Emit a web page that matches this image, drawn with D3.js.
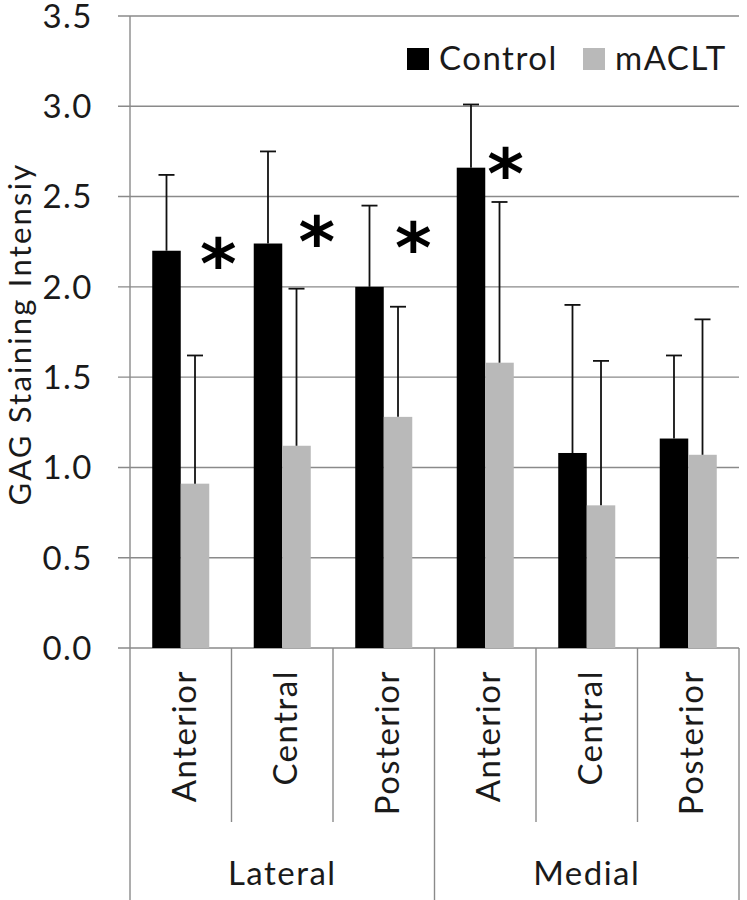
<!DOCTYPE html>
<html>
<head>
<meta charset="utf-8">
<script src="https://cdn.jsdelivr.net/npm/d3@7"></script>
<style>
  html, body { margin: 0; padding: 0; background: #fff; }
  svg { display: block; }
  text.lbl { font-family: Lato, "Open Sans", sans-serif; fill: #1a1a1a; letter-spacing: 1.5px; }
</style>
</head>
<body>
<script>
// ---- data ----
const categories = ["Anterior", "Central", "Posterior", "Anterior", "Central", "Posterior"];
const regions = ["Lateral", "Medial"];
const regionSpan = [[0, 2], [3, 5]];
const seriesNames = ["Control", "mACLT"];
const controlMean = [2.20, 2.24, 2.00, 2.66, 1.08, 1.16];
const controlErr  = [0.42, 0.51, 0.45, 0.35, 0.82, 0.46];
const mACLTMean   = [0.91, 1.12, 1.28, 1.58, 0.79, 1.07];
const mACLTErr    = [0.71, 0.87, 0.61, 0.89, 0.80, 0.75];
const yTicks = [0, 0.5, 1.0, 1.5, 2.0, 2.5, 3.0, 3.5];
const yTickLabels = ["0.0", "0.5", "1.0", "1.5", "2.0", "2.5", "3.0", "3.5"];
const yLabel = "GAG Staining Intensiy";
// significance markers: category index, value level, position inside band
const sigIndex = [0, 1, 2, 3];
const sigLevel = [2.21, 2.33, 2.30, 2.71];
const sigPos   = [0.87, 0.84, 0.79, 0.70];

const colors = { Control: "#000000", mACLT: "#b9b9b9" };
const W = 747, H = 900;
const FS = 33;
const plot = { left: 130, right: 739, top: 16, bottom: 648 };

const svg = d3.select("body").append("svg").attr("width", W).attr("height", H);

const x = d3.scaleBand().domain(d3.range(categories.length)).range([plot.left, plot.right]);
const sub = d3.scaleBand().domain(seriesNames).range([0, x.bandwidth()]).paddingInner(0).paddingOuter(0.78);
const y = d3.scaleLinear().domain([0, 3.5]).range([plot.bottom, plot.top]);

const gridColor = "#8a8a8a";

// gridlines + tick marks
svg.append("g").selectAll("line").data(yTicks).join("line")
  .attr("x1", plot.left - 12).attr("x2", plot.right)
  .attr("y1", d => y(d)).attr("y2", d => y(d))
  .attr("stroke", gridColor).attr("stroke-width", 1.4);

// y tick labels
svg.append("g").selectAll("text").data(yTicks).join("text")
  .attr("class", "lbl")
  .attr("x", 93).attr("y", d => y(d)).attr("dy", "0.36em")
  .attr("text-anchor", "end").attr("font-size", FS)
  .text((d, i) => yTickLabels[i]);

// y axis line extends down through the category area
svg.append("line").attr("x1", plot.left).attr("x2", plot.left)
  .attr("y1", plot.top).attr("y2", H)
  .attr("stroke", gridColor).attr("stroke-width", 1.4);

// category dividers
const boundaries = d3.range(categories.length + 1);
svg.append("g").selectAll("line").data(boundaries.slice(1)).join("line")
  .attr("x1", i => i === categories.length ? plot.right : x(i))
  .attr("x2", i => i === categories.length ? plot.right : x(i))
  .attr("y1", plot.bottom)
  .attr("y2", i => (i === 3 || i === categories.length) ? H : 822)
  .attr("stroke", gridColor).attr("stroke-width", 1.4);

// bars
const series = [
  { name: "Control", mean: controlMean, err: controlErr },
  { name: "mACLT", mean: mACLTMean, err: mACLTErr }
];
series.forEach(s => {
  const g = svg.append("g");
  g.selectAll("rect").data(s.mean).join("rect")
    .attr("x", (d, i) => x(i) + sub(s.name))
    .attr("y", d => y(d))
    .attr("width", sub.bandwidth())
    .attr("height", d => y(0) - y(d))
    .attr("fill", colors[s.name]);
  const eg = svg.append("g").attr("stroke", "#111").attr("stroke-width", 1.8);
  s.mean.forEach((m, i) => {
    const cx = x(i) + sub(s.name) + sub.bandwidth() / 2;
    eg.append("line").attr("x1", cx).attr("x2", cx).attr("y1", y(m)).attr("y2", y(m + s.err[i]));
    eg.append("line").attr("x1", cx - 8).attr("x2", cx + 8).attr("y1", y(m + s.err[i])).attr("y2", y(m + s.err[i]));
  });
});

// significance asterisks
svg.append("g").selectAll("text").data(sigIndex).join("text")
  .attr("x", (d, k) => x(d) + sigPos[k] * x.bandwidth())
  .attr("y", (d, k) => y(sigLevel[k]) + 39)
  .attr("text-anchor", "middle")
  .attr("font-size", 70)
  .attr("font-weight", "bold")
  .style("font-family", "'DejaVu Sans', sans-serif")
  .attr("fill", "#000")
  .text("*");

// category labels (rotated)
svg.append("g").selectAll("text").data(categories).join("text")
  .attr("class", "lbl")
  .attr("transform", (d, i) => `translate(${x(i) + x.bandwidth() / 2 + 15},670) rotate(-90)`)
  .attr("text-anchor", "end").attr("font-size", FS)
  .text(d => d);

// region labels
svg.append("g").selectAll("text").data(regions).join("text")
  .attr("class", "lbl")
  .attr("x", (d, i) => (x(regionSpan[i][0]) + x(regionSpan[i][1]) + x.bandwidth()) / 2)
  .attr("y", 885).attr("text-anchor", "middle").attr("font-size", FS)
  .text(d => d);

// y axis label
svg.append("text")
  .attr("class", "lbl")
  .attr("transform", `translate(31,${(plot.top + plot.bottom) / 2 + 2}) rotate(-90)`)
  .attr("text-anchor", "middle").attr("font-size", 31)
  .style("letter-spacing", "2.2px")
  .text(yLabel);

// legend
const legendX = [407, 583];
const lg = svg.append("g");
seriesNames.forEach((n, i) => {
  lg.append("rect").attr("x", legendX[i]).attr("y", 48).attr("width", 22).attr("height", 22).attr("fill", colors[n]);
  lg.append("text").attr("class", "lbl").attr("x", legendX[i] + 32).attr("y", 70).attr("font-size", FS).text(n);
});
</script>
</body>
</html>
